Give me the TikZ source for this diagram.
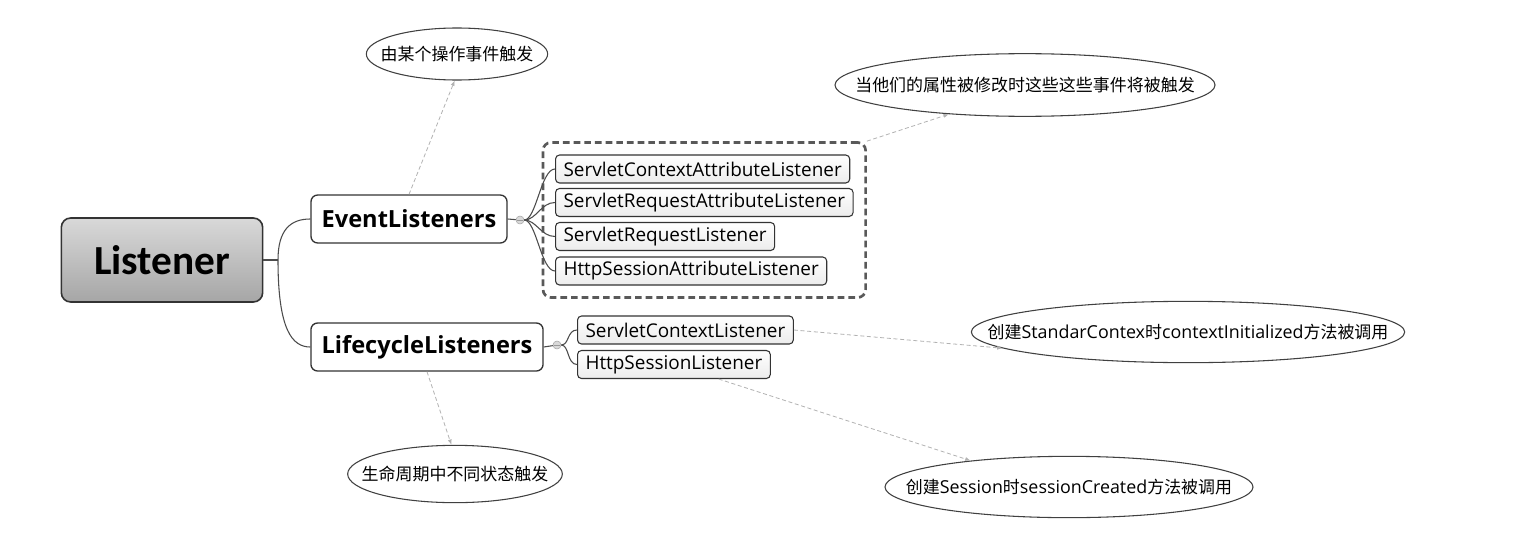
\documentclass[tikz,border=0pt]{standalone}
\usepackage{fontspec}
\setmainfont{Open Sans}
\newfontfamily\rootfont{Carlito}
\newfontfamily\cjk{Noto Sans CJK SC}[Scale=0.95]
\usetikzlibrary{positioning,shapes.geometric,fit,arrows.meta}

\begin{document}
\begin{tikzpicture}[x=0.75pt,y=0.75pt,yscale=-1,xscale=1,
  root/.style={draw=black!80, line width=1.2pt, rounded corners=7pt, top color=gray!30, bottom color=gray!70, minimum width=151pt, minimum height=63pt, font=\rootfont\fontsize{31}{31}\bfseries\selectfont},
  topic/.style={draw=black!80, line width=1pt, rounded corners=5pt, fill=white, minimum height=36pt, inner xsep=8pt, font=\fontsize{17.7}{17.7}\bfseries\selectfont},
  leaf/.style={draw=black!80, line width=0.8pt, rounded corners=3pt, top color=white, bottom color=gray!15, minimum height=21pt, inner xsep=6pt, inner ysep=0pt, anchor=west, font=\fontsize{14.2}{14.2}\selectfont},
  knob/.style={circle, draw=gray!70, fill=gray!30, inner sep=0pt, minimum size=6pt, path picture={\draw[gray!80] ([xshift=1pt]path picture bounding box.west) -- ([xshift=-1pt]path picture bounding box.east);}},
  note/.style={ellipse, draw=black!75, line width=0.8pt, inner sep=0pt, font=\fontsize{13.4}{13.4}\selectfont},
  branch/.style={draw=black!70, line width=0.8pt},
  hint/.style={draw=gray!60, densely dashed, line width=0.6pt, -{Latex[length=4pt,width=3pt]}},
  group/.style={draw=black!65, line width=2pt, rounded corners=6pt, dash pattern=on 5pt off 3pt, inner sep=9pt}
]
\fill[white] (0,0) rectangle (1530,542);
\useasboundingbox (0,0) rectangle (1530,542);

%Root
\node[root] (lst) at (162,260) {Listener};
\coordinate (fork) at (278,260);

%Main branches
\node[topic] (ev) at (409,219) {EventListeners};
\node[topic] (lc) at (427,347) {LifecycleListeners};
\node[knob] (evk) at (520,220) {};
\node[knob] (lck) at (557,345) {};

%Event listener leaves
\node[leaf] (scal) at (555,169) {ServletContextAttributeListener};
\node[leaf] (sral) at (555,202.5) {ServletRequestAttributeListener};
\node[leaf] (srl) at (555,236.5) {ServletRequestListener};
\node[leaf] (hsal) at (555,271) {HttpSessionAttributeListener};
\node[group, fit=(scal)(sral)(srl)(hsal)] (grp) {};

%Lifecycle listener leaves
\node[leaf] (scl) at (577,330) {ServletContextListener};
\node[leaf] (hsl) at (577,364.5) {HttpSessionListener};

%Notes
\node[note, minimum width=136pt, minimum height=39pt] (e1) at (457,54) {\makebox[0pt]{\cjk 由某个操作事件触发}};
\node[note, minimum width=285pt, minimum height=47pt] (e2) at (1025,85) {\makebox[0pt]{\cjk 当他们的属性被修改时这些这些事件将被触发}};
\node[note, minimum width=325pt, minimum height=46pt] (e3) at (1188,332) {\makebox[0pt]{{\cjk 创建}StandarContex{\cjk 时}contextInitialized{\cjk 方法被调用}}};
\node[note, minimum width=161pt, minimum height=43pt] (e4) at (455,474) {\makebox[0pt]{\cjk 生命周期中不同状态触发}};
\node[note, minimum width=276pt, minimum height=46pt] (e5) at (1069,487) {\makebox[0pt]{{\cjk 创建}Session{\cjk 时}sessionCreated{\cjk 方法被调用}}};

%Branches
\draw[branch] (lst.east) -- (fork);
\draw[branch] (fork) .. controls +(0,-30) and +(-20,0) .. (ev.west);
\draw[branch] (fork) .. controls +(0,70) and +(-18,0) .. (lc.west);
\draw[branch] (ev.east) -- (evk);
\draw[branch] (lc.east) -- (lck);
\draw[branch] (evk.east) .. controls +(12,0) and +(-14,0) .. (scal.west);
\draw[branch] (evk.east) .. controls +(12,0) and +(-14,0) .. (sral.west);
\draw[branch] (evk.east) .. controls +(12,0) and +(-14,0) .. (srl.west);
\draw[branch] (evk.east) .. controls +(12,0) and +(-14,0) .. (hsal.west);
\draw[branch] (lck.east) .. controls +(8,0) and +(-10,0) .. (scl.west);
\draw[branch] (lck.east) .. controls +(8,0) and +(-10,0) .. (hsl.west);

%Hints
\draw[hint] (ev.north) -- (e1.265);
\draw[hint] (grp.north east) -- (e2.201);
\draw[hint] (scl.east) -- (e3.185);
\draw[hint] (lc.south) -- (e4.97);
\draw[hint] (hsl.-18) -- (e5.165);

\end{tikzpicture}
\end{document}
